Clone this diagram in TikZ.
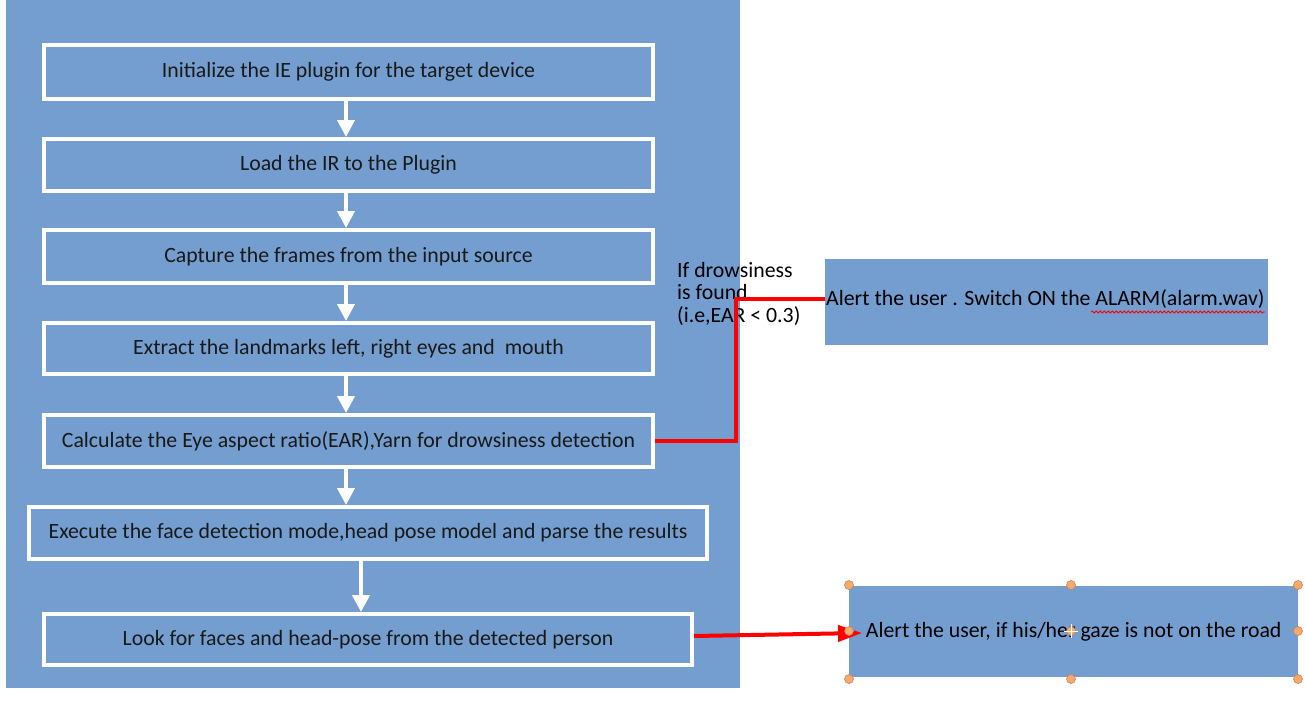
\documentclass[tikz,border=0pt]{standalone}
\usepackage{fontspec}
\setmainfont{Carlito}
\usetikzlibrary{arrows.meta,decorations.pathmorphing}
\definecolor{bgblue}{RGB}{115,158,207}
\definecolor{handle}{RGB}{243,170,115}
\definecolor{handleb}{RGB}{215,130,70}
\begin{document}
\begin{tikzpicture}[x=1pt,y=-1pt,
  stepbox/.style={draw=white,line width=4pt,fill=bgblue,anchor=north west,inner sep=0pt,font=\fontsize{21.8}{25}\selectfont,text=black!90},
  flow/.style={draw=white,line width=4pt,-{Triangle[width=17pt,length=17pt]}},
  alertbox/.style={fill=bgblue,anchor=north west,inner sep=0pt},
  redline/.style={draw=red,line width=4pt},
  hnd/.style={circle,fill=handle,draw=handleb,line width=0.6pt,inner sep=0pt,minimum size=9pt}]
\useasboundingbox (0,0) rectangle (1306,718);
\fill[white] (0,0) rectangle (1306,718);
\fill[bgblue] (6,0) rectangle (740,688);
% step boxes
\node[stepbox,minimum width=609pt,minimum height=54pt] (b1) at (42,43) {Initialize the IE plugin for the target device};
\node[stepbox,minimum width=609pt,minimum height=52pt] (b2) at (42,137) {Load the IR to the Plugin};
\node[stepbox,minimum width=609pt,minimum height=53pt] (b3) at (42,228) {Capture the frames from the input source};
\node[stepbox,minimum width=609pt,minimum height=51pt] (b4) at (42,321) {Extract the landmarks left, right eyes and\ \ mouth};
\node[stepbox,minimum width=609pt,minimum height=52pt] (b5) at (42,413) {Calculate the Eye aspect ratio(EAR),Yarn for drowsiness detection};
\node[stepbox,minimum width=678pt,minimum height=52pt] (b6) at (27,505) {Execute the face detection mode,head pose model and parse the results};
\node[stepbox,minimum width=648pt,minimum height=51pt] (b7) at (42,612) {Look for faces and head-pose from the detected person};
% white arrows
\draw[flow] (b1.south -| 346,0) -- (b2.north -| 346,0);
\draw[flow] (b2.south -| 346,0) -- (b3.north -| 346,0);
\draw[flow] (b3.south -| 346,0) -- (b4.north -| 346,0);
\draw[flow] (b4.south -| 346,0) -- (b5.north -| 346,0);
\draw[flow] (b5.south -| 346,0) -- (b6.north -| 346,0);
\draw[flow] (b6.south -| 361,0) -- (b7.north -| 361,0);
% alert boxes
\node[alertbox,minimum width=443pt,minimum height=86pt] (a1) at (825,259) {};
\node[anchor=west,inner sep=0pt,font=\fontsize{21.8}{25}\selectfont] (t1) at (826,299) {Alert the user . Switch ON the ALARM(alarm.wav)};
\draw[red,line width=0.8pt,decorate,decoration={snake,amplitude=1pt,segment length=4pt}] (1091,312) -- (1265,312);
\node[alertbox,minimum width=449pt,minimum height=91pt] (a2) at (849,586) {};
\node[anchor=center,inner sep=0pt,font=\fontsize{21.8}{25}\selectfont] (t2) at (a2.center) {Alert the user, if his/her gaze is not on the road};
% label
\node[anchor=north west,inner sep=0pt,align=left,font=\fontsize{21.8}{22.5}\selectfont] (lbl) at (677,262) {If drowsiness\\is found\\(i.e,EAR < 0.3)};
% red connectors
\coordinate (c1) at (b5.east -| 736,0);
\coordinate (c2) at (736,299);
\coordinate (tip) at (862,633);
\draw[redline] (b5.east) -- (c1) -- (c2) -- (a1.west |- c2);
\draw[redline,-{Triangle[width=16pt,length=24pt]}] (b7.east |- 0,636) -- (tip);
% selection handles
\foreach \p [count=\i] in {(849,585),(1071,585),(1298,585),(849,631),(1298,631),(849,679),(1071,679),(1298,679),(1071,631)}
  \node[hnd] (h\i) at \p {};
\draw[white,line width=1pt] (1064,631) -- (1078,631) (1071,624) -- (1071,638);
\end{tikzpicture}
\end{document}
